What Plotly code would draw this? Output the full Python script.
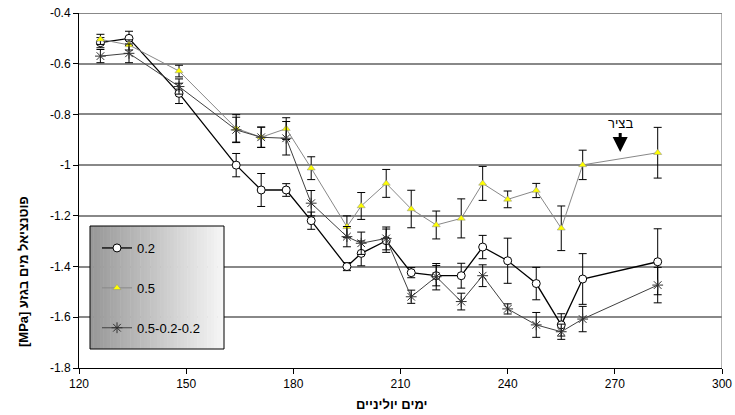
import plotly.graph_objects as go

days = [126, 134, 148, 164, 171, 178, 185, 195, 199, 206, 213, 220, 227, 233, 240, 248, 255, 261, 282]

s02 = [-0.517, -0.50, -0.717, -1.00, -1.098, -1.098, -1.219, -1.40, -1.348, -1.298, -1.424, -1.436,
       -1.436, -1.323, -1.377, -1.467, -1.63, -1.449, -1.381]
e02 = [0.02, 0.028, 0.04, 0.046, 0.065, 0.025, 0.034, 0.016, 0.049, 0.046, 0.02, 0.04,
       0.049, 0.046, 0.089, 0.064, 0.044, 0.10, 0.13]

s05 = [-0.504, -0.526, -0.629, -0.855, -0.89, -0.856, -1.012, -1.243, -1.161, -1.072, -1.173, -1.236,
       -1.21, -1.072, -1.135, -1.10, -1.249, -0.999, -0.951]
e05 = [0.02, 0.02, 0.023, 0.054, 0.04, 0.043, 0.045, 0.043, 0.053, 0.055, 0.074, 0.055,
       0.077, 0.067, 0.033, 0.028, 0.088, 0.058, 0.10]

s522 = [-0.57, -0.559, -0.69, -0.861, -0.89, -0.894, -1.15, -1.282, -1.308, -1.289, -1.519, -1.44,
        -1.538, -1.436, -1.567, -1.63, -1.657, -1.607, -1.473]
e522 = [0.026, 0.037, 0.03, 0.05, 0.04, 0.066, 0.05, 0.04, 0.044, 0.045, 0.026, 0.052,
        0.033, 0.043, 0.02, 0.049, 0.03, 0.05, 0.07]

names = ["0.2", "0.5", "0.5-0.2-0.2"]

y_ticks = [-1.8, -1.6, -1.4, -1.2, -1.0, -0.8, -0.6, -0.4]
y_ticktext = ["-1.8", "-1.6", "-1.4", "-1.2", "-1", "-0.8", "-0.6", "-0.4"]
x_ticks = [120, 150, 180, 210, 240, 270, 300]

x_title = "ימים יוליניים"
y_title = "[MPa] פוטנציאל מים בגזע"
note_text = "בציר"
note_day = 271.5
note_val = -0.948

FONT = "Arial, Liberation Sans, sans-serif"

fig = go.Figure()

fig.add_trace(go.Scatter(
    x=days, y=s02, name=names[0], mode="lines+markers", legendgroup="a",
    line=dict(color="black", width=1.3),
    marker=dict(symbol="circle", size=8, color="white", line=dict(color="black", width=1)),
    error_y=dict(type="data", array=e02, color="black", thickness=1, width=4),
))
fig.add_trace(go.Scatter(
    x=days, y=s05, name=names[1], mode="lines+markers", legendgroup="b",
    line=dict(color="#888888", width=1),
    marker=dict(symbol="triangle-up", size=7, color="#ffff00", line=dict(color="#888888", width=0.5)),
    error_y=dict(type="data", array=e05, color="black", thickness=1, width=4),
))
fig.add_trace(go.Scatter(
    x=days, y=s522, name=names[2], mode="lines+markers", legendgroup="c",
    line=dict(color="#404040", width=1),
    marker=dict(symbol="asterisk-open", size=9, color="#303030", line=dict(color="#303030", width=1)),
    error_y=dict(type="data", array=e522, color="black", thickness=1, width=4),
))

FW, FH = 735, 415
# plot area in pixels
L, R, T, B = 79, 722, 13, 368
W, H = R - L, B - T


def px_x(p):
    return (p - L) / W


def px_y(p):
    return (B - p) / H


shapes = []
# gradient legend background
lx0, lx1, ly0, ly1 = 90, 224, 226, 349
n = 40
for i in range(n):
    t = i / (n - 1)
    c = int(152 + (246 - 152) * t)
    col = f"rgb({c},{c},{c})"
    xa = lx0 + (lx1 - lx0) * i / n
    xb = lx0 + (lx1 - lx0) * (i + 1) / n + 0.5
    shapes.append(dict(type="rect", xref="paper", yref="paper",
                       x0=px_x(xa), x1=px_x(min(xb, lx1)), y0=px_y(ly1), y1=px_y(ly0),
                       fillcolor=col, line=dict(width=0), layer="above"))
shapes.append(dict(type="rect", xref="paper", yref="paper",
                   x0=px_x(lx0), x1=px_x(lx1), y0=px_y(ly1), y1=px_y(ly0),
                   fillcolor="rgba(0,0,0,0)", line=dict(color="black", width=1), layer="above"))
# right border of plot area and top gridline
shapes.append(dict(type="line", xref="x", yref="paper", x0=300, x1=300, y0=0, y1=1,
                   line=dict(color="#999999", width=1.5), layer="below"))
shapes.append(dict(type="line", xref="paper", yref="y", x0=0, x1=1, y0=-0.4, y1=-0.4,
                   line=dict(color="#888888", width=1.8), layer="below"))

fig.update_layout(
    width=FW, height=FH,
    margin=dict(l=L, r=FW - R, t=T, b=FH - B, autoexpand=False),
    paper_bgcolor="white", plot_bgcolor="white",
    font=dict(family=FONT, size=12, color="black"),
    showlegend=True,
    legend=dict(x=px_x(97), y=px_y(233), xanchor="left", yanchor="top",
                bgcolor="rgba(0,0,0,0)", borderwidth=0,
                font=dict(family=FONT, size=13, color="black"),
                traceorder="grouped", tracegroupgap=20),
    shapes=shapes,
    xaxis=dict(range=[120, 300], tickvals=x_ticks, showgrid=False, zeroline=False,
               showline=True, linecolor="black", linewidth=1,
               ticks="outside", ticklen=5, tickcolor="black",
               tickfont=dict(family=FONT, size=12), ticklabeloverflow="allow"),
    yaxis=dict(range=[-1.8, -0.4], tickvals=y_ticks, ticktext=y_ticktext,
               showgrid=True, gridcolor="#888888", gridwidth=1.8, zeroline=False,
               showline=True, linecolor="black", linewidth=1,
               ticks="outside", ticklen=5, tickcolor="black",
               tickfont=dict(family=FONT, size=12), ticklabeloverflow="allow"),
    annotations=[
        dict(text=f"<b>{x_title}</b>", xref="paper", yref="paper",
             x=px_x(392), y=px_y(404), showarrow=False,
             font=dict(family=FONT, size=13), xanchor="center", yanchor="middle"),
        dict(text=f"<b>{y_title}</b>", xref="paper", yref="paper",
             x=px_x(23), y=px_y(272), showarrow=False, textangle=-90,
             font=dict(family=FONT, size=13), xanchor="center", yanchor="middle"),
        dict(text=note_text, x=note_day, y=note_val, xref="x", yref="y",
             showarrow=True, ax=0, ay=-28, arrowhead=2, arrowsize=1, arrowwidth=3,
             arrowcolor="black", font=dict(family=FONT, size=13)),
    ],
)

fig.write_html("out.html", config={"displayModeBar": False},
               post_script="document.body.style.margin='0';")
